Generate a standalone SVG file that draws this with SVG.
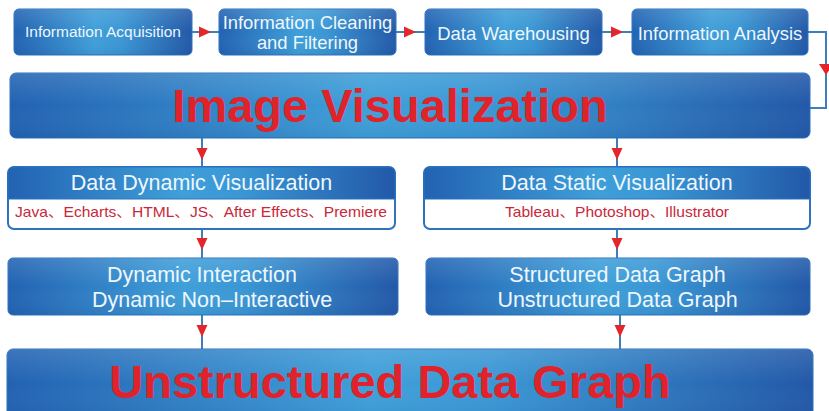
<svg xmlns="http://www.w3.org/2000/svg" width="829" height="411" viewBox="0 0 829 411">
  <defs>
    <linearGradient id="blueBar" x1="0" y1="0" x2="1" y2="0">
      <stop offset="0" stop-color="#2262b2"/>
      <stop offset="0.45" stop-color="#3f9fd9"/>
      <stop offset="0.6" stop-color="#3a97d4"/>
      <stop offset="1" stop-color="#2258a8"/>
    </linearGradient>
    <linearGradient id="shine" x1="0" y1="0" x2="0" y2="1">
      <stop offset="0" stop-color="#ffffff" stop-opacity="0.12"/>
      <stop offset="0.5" stop-color="#ffffff" stop-opacity="0"/>
      <stop offset="1" stop-color="#0a2a60" stop-opacity="0.08"/>
    </linearGradient>
  </defs>
  <style>
    .box { fill: url(#blueBar); stroke: #2a72bd; stroke-width: 1; }
    .gloss { fill: url(#shine); }
    .frame { fill: #ffffff; stroke: #2d73bf; stroke-width: 2; }
    .lbl { font-family: "Liberation Sans", Arial, sans-serif; fill: #eef7fd; text-anchor: middle; }
    .big { font-family: "Liberation Sans", Arial, sans-serif; font-weight: bold; fill: #e0232a; text-anchor: middle; }
    .tools { font-family: "Liberation Sans", Arial, "Noto Sans CJK SC", sans-serif; fill: #c8283a; text-anchor: middle; font-size: 14.5px; }
    .wire { fill: none; stroke: #3c7fbb; stroke-width: 2; }
    .head { fill: #e3262b; }
  </style>

  <rect width="829" height="411" fill="#ffffff"/>

  <!-- connectors -->
  <g id="connectors">
    <line class="wire" x1="192" y1="32" x2="219" y2="32"/>
    <path class="head" d="M199,26.5 L211,32 L199,37.5 Z"/>
    <line class="wire" x1="396" y1="32" x2="425" y2="32"/>
    <path class="head" d="M404,26.5 L416,32 L404,37.5 Z"/>
    <line class="wire" x1="602" y1="32" x2="632" y2="32"/>
    <path class="head" d="M611,26.5 L623,32 L611,37.5 Z"/>
    <polyline class="wire" points="808,32 826,32 826,108 810,108"/>
    <path class="head" d="M819,64 L833,64 L826,75 Z"/>

    <line class="wire" x1="202" y1="138" x2="202" y2="167"/>
    <path class="head" d="M196.5,148 L207.5,148 L202,160 Z"/>
    <line class="wire" x1="617" y1="138" x2="617" y2="167"/>
    <path class="head" d="M611.5,148 L622.5,148 L617,160 Z"/>

    <line class="wire" x1="202" y1="229" x2="202" y2="258"/>
    <path class="head" d="M196.5,238 L207.5,238 L202,250 Z"/>
    <line class="wire" x1="617" y1="229" x2="617" y2="258"/>
    <path class="head" d="M611.5,238 L622.5,238 L617,250 Z"/>

    <line class="wire" x1="202" y1="315" x2="202" y2="349"/>
    <path class="head" d="M196.5,325 L207.5,325 L202,337 Z"/>
    <line class="wire" x1="620" y1="315" x2="620" y2="349"/>
    <path class="head" d="M614.5,325 L625.5,325 L620,337 Z"/>
  </g>

  <!-- top row -->
  <g id="acquisition">
    <rect class="box" x="14" y="9" width="178" height="46" rx="5"/>
    <rect class="gloss" x="14" y="9" width="178" height="46" rx="5"/>
    <text class="lbl" x="103" y="37" font-size="15.5">Information Acquisition</text>
  </g>
  <g id="cleaning">
    <rect class="box" x="219" y="9" width="177" height="46" rx="5"/>
    <rect class="gloss" x="219" y="9" width="177" height="46" rx="5"/>
    <text class="lbl" x="307.5" y="29" font-size="18.4">Information Cleaning</text>
    <text class="lbl" x="307.5" y="49" font-size="18.4">and Filtering</text>
  </g>
  <g id="warehousing">
    <rect class="box" x="425" y="9" width="177" height="46" rx="5"/>
    <rect class="gloss" x="425" y="9" width="177" height="46" rx="5"/>
    <text class="lbl" x="513.5" y="40" font-size="18.5">Data Warehousing</text>
  </g>
  <g id="analysis">
    <rect class="box" x="632" y="9" width="176" height="46" rx="5"/>
    <rect class="gloss" x="632" y="9" width="176" height="46" rx="5"/>
    <text class="lbl" x="720" y="40" font-size="18.4">Information Analysis</text>
  </g>

  <!-- image visualization banner -->
  <g id="image-visualization">
    <rect class="box" x="10" y="73" width="800" height="65" rx="6"/>
    <rect class="gloss" x="10" y="73" width="800" height="65" rx="6"/>
    <text class="big" x="390" y="122" font-size="47">Image Visualization</text>
  </g>

  <!-- visualization kinds -->
  <g id="dynamic-visualization">
    <rect class="frame" x="8" y="167" width="387" height="62" rx="6"/>
    <path class="box" d="M8,199 V173 a6,6 0 0 1 6,-6 H389 a6,6 0 0 1 6,6 V199 Z"/>
    <text class="lbl" x="201.5" y="190" font-size="21.5">Data Dynamic Visualization</text>
    <text class="tools" x="201" y="217" textLength="372" lengthAdjust="spacingAndGlyphs">Java、Echarts、HTML、JS、After Effects、Premiere</text>
  </g>
  <g id="static-visualization">
    <rect class="frame" x="424" y="167" width="386" height="62" rx="6"/>
    <path class="box" d="M424,199 V173 a6,6 0 0 1 6,-6 H804 a6,6 0 0 1 6,6 V199 Z"/>
    <text class="lbl" x="617" y="190" font-size="21.5">Data Static Visualization</text>
    <text class="tools" x="617" y="217" textLength="224" lengthAdjust="spacingAndGlyphs">Tableau、Photoshop、Illustrator</text>
  </g>

  <!-- interaction types -->
  <g id="dynamic-types">
    <rect class="box" x="8" y="258" width="390" height="57" rx="5"/>
    <rect class="gloss" x="8" y="258" width="390" height="57" rx="5"/>
    <text class="lbl" x="202" y="282" font-size="21.5">Dynamic Interaction</text>
    <text class="lbl" x="212" y="307" font-size="21.5">Dynamic Non–Interactive</text>
  </g>
  <g id="static-types">
    <rect class="box" x="426" y="258" width="384" height="57" rx="5"/>
    <rect class="gloss" x="426" y="258" width="384" height="57" rx="5"/>
    <text class="lbl" x="617.5" y="282" font-size="21.5">Structured Data Graph</text>
    <text class="lbl" x="617.5" y="307" font-size="21.5">Unstructured Data Graph</text>
  </g>

  <!-- result banner -->
  <g id="unstructured-graph">
    <rect class="box" x="7" y="349" width="806" height="70" rx="6"/>
    <rect class="gloss" x="7" y="349" width="806" height="70" rx="6"/>
    <text class="big" x="390" y="398" font-size="47">Unstructured Data Graph</text>
  </g>
</svg>
